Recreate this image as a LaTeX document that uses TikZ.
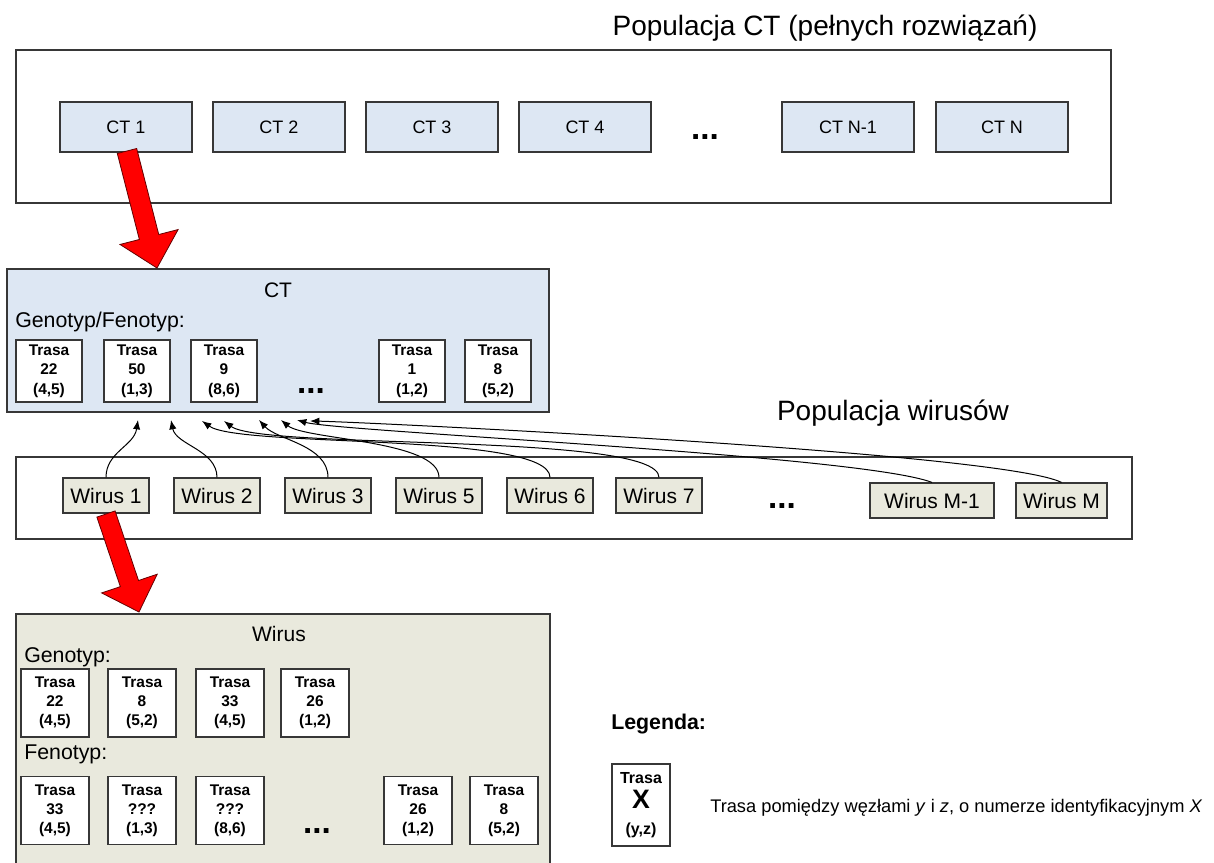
\documentclass[tikz,border=0pt]{standalone}
\usepackage{fontspec}
\setmainfont{Liberation Sans}
\usetikzlibrary{arrows.meta,calc}
\definecolor{ctfill}{RGB}{221,231,243}
\definecolor{wfill}{RGB}{233,233,221}
\definecolor{edge}{RGB}{55,55,55}
\definecolor{blockred}{RGB}{255,0,0}
\definecolor{blockedge}{RGB}{100,0,0}

\begin{document}
\begin{tikzpicture}[x=0.75pt,y=-0.75pt,
  panel/.style={draw=edge, line width=0.9pt, inner sep=0pt},
  ctitem/.style={draw=edge, fill=ctfill, line width=0.9pt, inner sep=0pt,
    minimum width=99pt, minimum height=37.5pt, font=\fontsize{13.5}{16}\selectfont},
  witem/.style={draw=edge, fill=wfill, line width=0.9pt, inner sep=0pt,
    minimum width=64.5pt, minimum height=26.25pt, font=\fontsize{15.75}{18}\selectfont},
  bigtitle/.style={font=\fontsize{21}{25}\selectfont},
  boxtitle/.style={font=\fontsize{15.75}{19}\selectfont},
  sublabel/.style={anchor=west, inner sep=0pt, font=\fontsize{16}{19}\selectfont},
  ellipsis/.style={inner sep=0pt, font=\bfseries\fontsize{25}{25}\selectfont},
  trasa/.style={draw=edge, fill=white, line width=0.8pt, inner sep=0pt, align=center,
    minimum width=49.5pt, minimum height=46.5pt,
    font=\bfseries\fontsize{11.6}{14.6}\selectfont},
  trasabig/.style={trasa, minimum width=51pt, minimum height=51pt,
    font=\bfseries\fontsize{11.6}{14.4}\selectfont},
  link/.style={draw=black, line width=0.75pt, -{Latex[length=7pt,width=5.5pt]}},
  redarrow/.style={fill=blockred, draw=blockedge, line width=0.6pt, line join=miter}
]
\useasboundingbox (0,0) rectangle (1214,863);
\clip (0,0) rectangle (1214,863);
\fill[white] (0,0) rectangle (1214,863);

% ---------- population of complete solutions ----------
\node (ctpoptitle) [bigtitle] at (825,28) {Populacja CT (pełnych rozwiązań)};
\node (ctpop) [panel, fill=white, minimum width=821.25pt, minimum height=114.75pt] at (563.5,126.5) {};
\node (ct1) [ctitem] at (126,127) {CT 1};
\node (ct2) [ctitem] at (279,127) {CT 2};
\node (ct3) [ctitem] at (432,127) {CT 3};
\node (ct4) [ctitem] at (585,127) {CT 4};
\node (ctdots) [ellipsis] at (705,137) {...};
\node (ctn1) [ctitem] at (848,127) {CT N-1};
\node (ctn) [ctitem] at (1002,127) {CT N};

% ---------- one solution in detail ----------
\node (ctbox) [panel, fill=ctfill, minimum width=406.5pt, minimum height=107.25pt] at (278,340.5) {};
\node (cttitle) [boxtitle] at (278,290) {CT};
\node (ctgeno) [sublabel] at (15,322) {Genotyp/Fenotyp:};
\node (cr1) [trasa] at (49,371) {Trasa\\22\\(4,5)};
\node (cr2) [trasa] at (137,371) {Trasa\\50\\(1,3)};
\node (cr3) [trasa] at (224,371) {Trasa\\9\\(8,6)};
\node (crdots) [ellipsis] at (311,391) {...};
\node (cr4) [trasa] at (412,371) {Trasa\\1\\(1,2)};
\node (cr5) [trasa] at (498,371) {Trasa\\8\\(5,2)};

% block arrow from CT 1 down to its detail
\coordinate (a1s) at (127,151);
\coordinate (a1t) at (157,268);
\coordinate (a1b) at ($(a1t)!24pt!(a1s)$);
\filldraw[redarrow] ($(a1s)!7.5pt!90:(a1t)$) -- ($(a1b)!7.5pt!90:(a1t)$)
  -- ($(a1b)!22.5pt!90:(a1t)$) -- (a1t) -- ($(a1b)!22.5pt!-90:(a1t)$)
  -- ($(a1b)!7.5pt!-90:(a1t)$) -- ($(a1s)!7.5pt!-90:(a1t)$) -- cycle;

% ---------- virus population ----------
\node (wpoptitle) [bigtitle] at (893,413) {Populacja wirusów};
\node (wpop) [panel, fill=white, minimum width=837pt, minimum height=61.5pt] at (574,498) {};
\node (w1) [witem] at (106,495.5) {Wirus 1};
\node (w2) [witem] at (217,495.5) {Wirus 2};
\node (w3) [witem] at (328,495.5) {Wirus 3};
\node (w5) [witem] at (439,495.5) {Wirus 5};
\node (w6) [witem] at (550,495.5) {Wirus 6};
\node (w7) [witem] at (659,495.5) {Wirus 7};
\node (wdots) [ellipsis] at (782,506) {...};
\node (wm1) [witem, minimum width=93pt] at (932,500.5) {Wirus M-1};
\node (wm) [witem, minimum width=68.25pt] at (1061.5,500.5) {Wirus M};

% targets under the solution box
\coordinate (tip1) at (138,420);
\coordinate (tip2) at (171,420);
\coordinate (tip3) at (202,421);
\coordinate (tip4) at (224,421);
\coordinate (tip5) at (259,420);
\coordinate (tip6) at (281,420);
\coordinate (tip7) at (297,420);
\coordinate (tip8) at (310,421);

\draw[link] (w1.north) .. controls (106,452) and (134,446) .. (tip1);
\draw[link] (w2.north) .. controls (217,450) and (176,445) .. (tip2);
\draw[link] (w3.north) .. controls (328,445) and (277,440) .. (tip5);
\draw[link] (w5.north) .. controls (439,440) and (305,440) .. (tip6);
\draw[link] (w6.north) .. controls (550,432) and (240,448) .. (tip3);
\draw[link] (w7.north) .. controls (659,432) and (262,450) .. (tip4);
\draw[link] (wm1.north) .. controls (860,455) and (340,432) .. (tip7);
\draw[link] (wm.north) .. controls (1000,452) and (360,422) .. (tip8);

% ---------- one virus in detail ----------
\node (wbox) [panel, fill=wfill, minimum width=400.5pt, minimum height=199.5pt] at (283,747) {};
\node (wtitle) [boxtitle] at (279,634) {Wirus};
\node (wgeno) [sublabel] at (24,657) {Genotyp:};
\node (g1) [trasabig] at (55,703) {Trasa\\22\\(4,5)};
\node (g2) [trasabig] at (142,703) {Trasa\\8\\(5,2)};
\node (g3) [trasabig] at (230,703) {Trasa\\33\\(4,5)};
\node (g4) [trasabig] at (315,703) {Trasa\\26\\(1,2)};
\node (wfeno) [sublabel] at (24,754) {Fenotyp:};
\node (f1) [trasabig] at (55,810.5) {Trasa\\33\\(4,5)};
\node (f2) [trasabig] at (142,810.5) {Trasa\\???\\(1,3)};
\node (f3) [trasabig] at (230,810.5) {Trasa\\???\\(8,6)};
\node (fdots) [ellipsis] at (317,831) {...};
\node (f4) [trasabig] at (418,810.5) {Trasa\\26\\(1,2)};
\node (f5) [trasabig] at (504,810.5) {Trasa\\8\\(5,2)};

% block arrow from Wirus 1 down to its detail
\coordinate (a2s) at (106,514);
\coordinate (a2t) at (139,612);
\coordinate (a2b) at ($(a2t)!22.5pt!(a2s)$);
\filldraw[redarrow] ($(a2s)!7.2pt!90:(a2t)$) -- ($(a2b)!7.2pt!90:(a2t)$)
  -- ($(a2b)!22pt!90:(a2t)$) -- (a2t) -- ($(a2b)!22pt!-90:(a2t)$)
  -- ($(a2b)!7.2pt!-90:(a2t)$) -- ($(a2s)!7.2pt!-90:(a2t)$) -- cycle;

% ---------- legend ----------
\node (legtitle) [anchor=west, inner sep=0pt, font=\bfseries\fontsize{16}{19}\selectfont] at (611,724) {Legenda:};
\node (legbox) [draw=edge, fill=white, line width=0.8pt, inner sep=0pt, align=center,
  minimum width=43.5pt, minimum height=61.5pt, font=\bfseries\fontsize{12}{14}\selectfont]
  at (641,805) {Trasa\\[5pt]{\fontsize{20}{22}\selectfont X}\\[5pt](y,z)};
\node (legtext) [anchor=west, inner sep=0pt, font=\fontsize{13.7}{16}\selectfont] at (710,808)
  {Trasa pomiędzy węzłami \textit{y} i \textit{z}, o numerze identyfikacyjnym \textit{X}};
\end{tikzpicture}
\end{document}
